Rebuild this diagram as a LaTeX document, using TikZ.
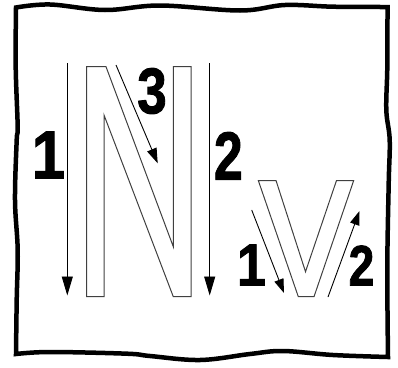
\documentclass[tikz,border=0pt]{standalone}
\usepackage{fontspec}
\setmainfont{Liberation Sans}
\newfontfamily\heavyfont[FakeBold=1.6]{Liberation Sans Bold}
\usetikzlibrary{arrows.meta}
\tikzset{
  border/.style={line width=4.5pt, line join=miter, black},
  letter/.style={line width=1pt, draw=black!75, line join=miter},
  bigarr/.style={line width=0.9pt, -{Triangle[length=19pt,width=11pt]}},
  midarr/.style={line width=0.9pt, -{Triangle[length=15pt,width=10pt]}},
  smallarr/.style={line width=0.9pt, -{Triangle[length=14pt,width=9.5pt]}},
  lab/.style={inner sep=0pt, font=\heavyfont\fontsize{68}{68}\selectfont},
  labv/.style={inner sep=0pt, font=\heavyfont\fontsize{59}{59}\selectfont},
}
\begin{document}
\begin{tikzpicture}[x=1pt,y=-1pt]
\useasboundingbox (0,0) rectangle (398,367);
% wavy frame
\draw[border]
  plot[smooth,tension=0.6] coordinates {(16,7.5) (50,4.5) (105,10) (160,5.5) (240,10.5) (285,5) (333,6.7) (387.5,7)}
  -- plot[smooth,tension=0.6] coordinates {(387.5,7) (387.3,67) (386.3,110) (389.7,140) (388.7,183) (387.3,267) (388,357)}
  -- plot[smooth,tension=0.6] coordinates {(388,357) (333,355) (283,351) (250,354) (200,360) (150,356) (127,353.7) (50,352) (16,354)}
  -- plot[smooth,tension=0.6] coordinates {(16,354) (16.7,300) (17.7,250) (15,200) (16.7,140) (17.7,127) (15.7,67) (16,7.5)}
  -- cycle;
% letter N
\draw[letter] (86.7,66.7) -- (106,66.7) -- (173.3,246.7) -- (173.3,66.7) -- (191,66.7)
  -- (191,296.7) -- (173.3,296.7) -- (104,115) -- (104,296.7) -- (86.7,296.7) -- cycle;
% letter V
\draw[letter] (258.3,180.5) -- (276,180.5) -- (305.5,271.7) -- (336.5,180.5) -- (353.7,180.5)
  -- (314,296.7) -- (298.3,296.7) -- cycle;
% arrows of N
\coordinate (a1s) at (67.3,63.3);
\coordinate (a1e) at (67.3,295.5);
\coordinate (a2s) at (209.7,63.3);
\coordinate (a2e) at (209.7,295.5);
\coordinate (a3s) at (116,65);
\coordinate (a3e) at (157.7,163.3);
\draw[bigarr] (a1s) -- (a1e);
\draw[bigarr] (a2s) -- (a2e);
\draw[midarr] (a3s) -- (a3e);
% arrows of V
\coordinate (v1s) at (251.7,210);
\coordinate (v1e) at (284,293);
\coordinate (v2s) at (328,297);
\coordinate (v2e) at (359.5,211);
\draw[smallarr] (v1s) -- (v1e);
\draw[smallarr] (v2s) -- (v2e);
% labels
\node[lab] (n1) at (48.5,155) {\scalebox{0.88}[1]{1}};
\node[lab] (n2) at (228.3,155.8) {\scalebox{0.76}[1]{2}};
\node[lab] (n3) at (152,91) {\scalebox{0.78}[0.95]{3}};
\node[labv] (m1) at (251.5,265) {\scalebox{0.88}[1]{1}};
\node[labv] (m2) at (361.5,265.5) {\scalebox{0.78}[0.97]{2}};
\end{tikzpicture}
\end{document}
